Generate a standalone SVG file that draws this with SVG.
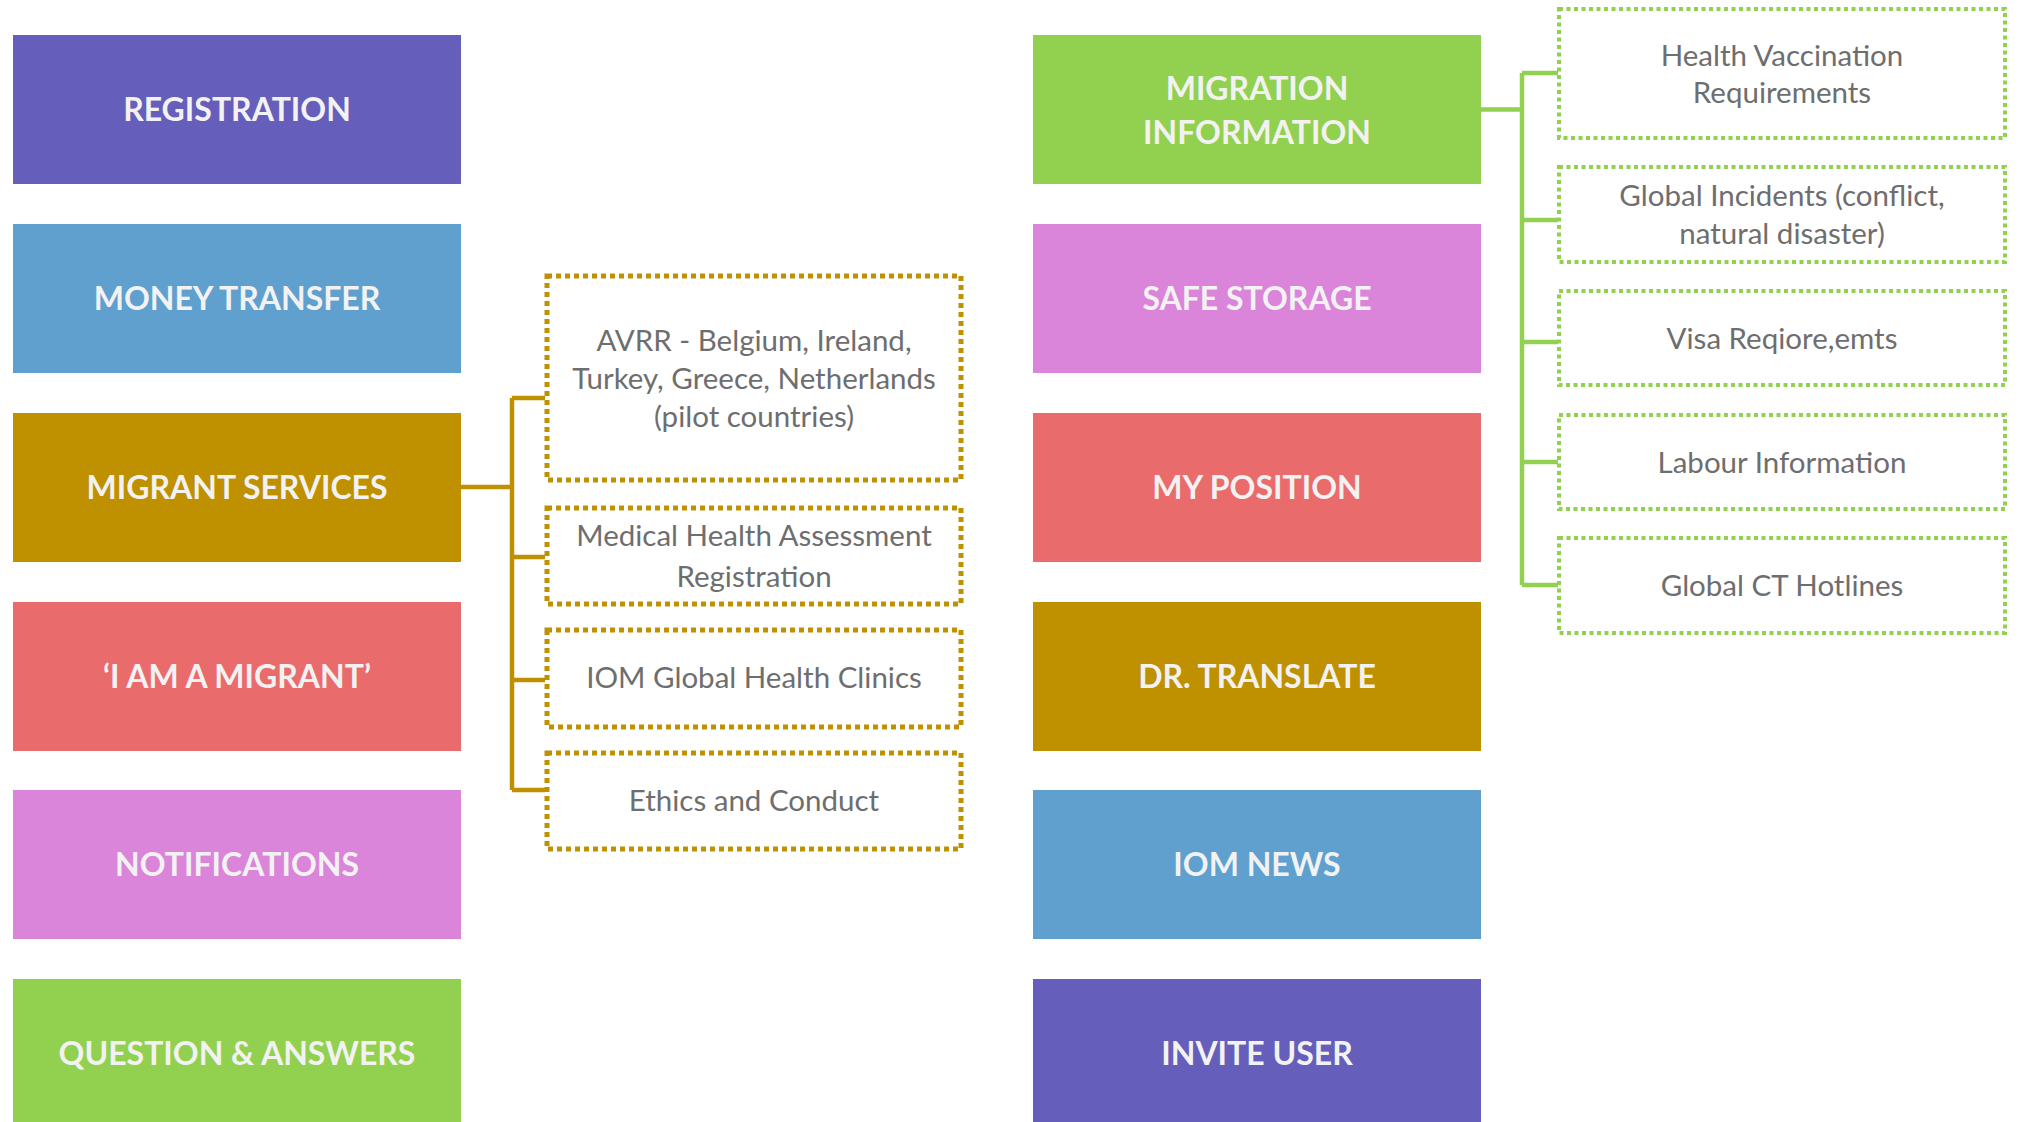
<svg xmlns="http://www.w3.org/2000/svg" width="2020" height="1122" viewBox="0 0 2020 1122">
<style>
.t{font-family:Lato,"Open Sans",sans-serif;font-weight:bold;font-size:32px;fill:#F2F2F2;text-anchor:middle}
.s{font-family:Lato,"Open Sans",sans-serif;font-size:29.5px;fill:#6E6E6E;text-anchor:middle}
.gd{fill:none;stroke:#BF9000;stroke-width:5;stroke-dasharray:5 4}
.gn{fill:none;stroke:#92D050;stroke-width:4;stroke-dasharray:4 3.5}
.purple{fill:#665EBB}.blue{fill:#5FA0CF}.gold{fill:#BF9000}.red{fill:#EA6B6B}.pink{fill:#DA85DA}.green{fill:#92D050}
</style>
<rect width="2020" height="1122" fill="#FFFFFF"/>
<g id="connectors" fill="none" stroke-width="4.5">
<path d="M461 487 H512 M512 398 V790 M512 398 H545 M512 557 H545 M512 680 H545 M512 790 H545" stroke="#BF9000"/>
<path d="M1481 109.5 H1522 M1522 73 V585 M1522 73 H1558 M1522 220 H1558 M1522 342 H1558 M1522 462 H1558 M1522 585 H1558" stroke="#92D050"/>
</g>
<g id="registration"><rect class="purple" x="13" y="35" width="448" height="149"/><text class="t" x="237" y="121">REGISTRATION</text></g>
<g id="money-transfer"><rect class="blue" x="13" y="224" width="448" height="149"/><text class="t" x="237" y="310">MONEY TRANSFER</text></g>
<g id="migrant-services"><rect class="gold" x="13" y="413" width="448" height="149"/><text class="t" x="237" y="499">MIGRANT SERVICES</text></g>
<g id="i-am-a-migrant"><rect class="red" x="13" y="602" width="448" height="149"/><text class="t" x="237" y="688">‘I AM A MIGRANT’</text></g>
<g id="notifications"><rect class="pink" x="13" y="790" width="448" height="149"/><text class="t" x="237" y="876">NOTIFICATIONS</text></g>
<g id="question-answers"><rect class="green" x="13" y="979" width="448" height="149"/><text class="t" x="237" y="1065">QUESTION &amp; ANSWERS</text></g>

<g id="migration-information"><rect class="green" x="1033" y="35" width="448" height="149"/><text class="t" x="1257" y="100">MIGRATION</text><text class="t" x="1257" y="144">INFORMATION</text></g>
<g id="safe-storage"><rect class="pink" x="1033" y="224" width="448" height="149"/><text class="t" x="1257" y="310">SAFE STORAGE</text></g>
<g id="my-position"><rect class="red" x="1033" y="413" width="448" height="149"/><text class="t" x="1257" y="499">MY POSITION</text></g>
<g id="dr-translate"><rect class="gold" x="1033" y="602" width="448" height="149"/><text class="t" x="1257" y="688">DR. TRANSLATE</text></g>
<g id="iom-news"><rect class="blue" x="1033" y="790" width="448" height="149"/><text class="t" x="1257" y="876">IOM NEWS</text></g>
<g id="invite-user"><rect class="purple" x="1033" y="979" width="448" height="149"/><text class="t" x="1257" y="1065">INVITE USER</text></g>

<g id="avrr"><rect class="gd" x="547" y="276" width="414" height="204"/><text class="s" x="754" y="351">AVRR - Belgium, Ireland,</text><text class="s" x="754" y="389">Turkey, Greece, Netherlands</text><text class="s" x="754" y="427">(pilot countries)</text></g>
<g id="medical-health"><rect class="gd" x="547" y="508" width="414" height="96"/><text class="s" x="754" y="546">Medical Health Assessment</text><text class="s" x="754" y="587">Registration</text></g>
<g id="iom-clinics"><rect class="gd" x="547" y="630" width="414" height="97"/><text class="s" x="754" y="688">IOM Global Health Clinics</text></g>
<g id="ethics"><rect class="gd" x="547" y="753" width="414" height="96"/><text class="s" x="754" y="811">Ethics and Conduct</text></g>

<g id="health-vaccination"><rect class="gn" x="1559" y="9" width="446" height="129"/><text class="s" x="1782" y="66">Health Vaccination</text><text class="s" x="1782" y="103">Requirements</text></g>
<g id="global-incidents"><rect class="gn" x="1559" y="167" width="446" height="95"/><text class="s" x="1782" y="206">Global Incidents (conflict,</text><text class="s" x="1782" y="244">natural disaster)</text></g>
<g id="visa"><rect class="gn" x="1559" y="291" width="446" height="94"/><text class="s" x="1782" y="349">Visa Reqiore,emts</text></g>
<g id="labour"><rect class="gn" x="1559" y="415" width="446" height="94"/><text class="s" x="1782" y="473">Labour Information</text></g>
<g id="ct-hotlines"><rect class="gn" x="1559" y="538" width="446" height="95"/><text class="s" x="1782" y="596">Global CT Hotlines</text></g>
</svg>
